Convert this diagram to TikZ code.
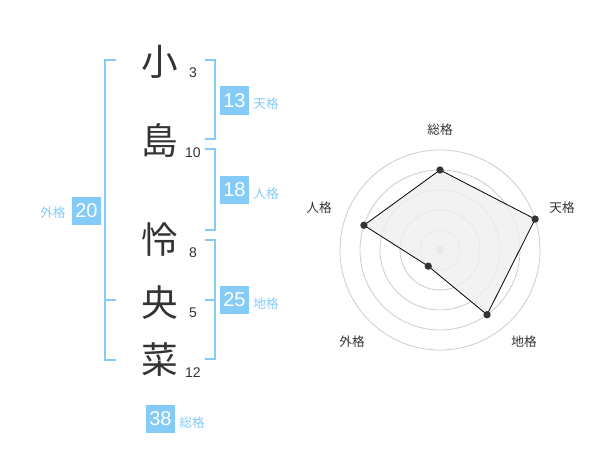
\documentclass[tikz,border=0pt]{standalone}
\usepackage{fontspec}
\usetikzlibrary{calc}
\setmainfont{Liberation Sans}
\newfontfamily\cjk{Noto Sans CJK JP}
\definecolor{skyb}{HTML}{85CBF8}
\definecolor{ink}{HTML}{333333}
\definecolor{ring}{HTML}{CCCCCC}
\definecolor{areaf}{HTML}{EFEFEF}
\begin{document}
\begin{tikzpicture}[x=0.75pt,y=-0.75pt,
  kanji/.style={font=\cjk\fontsize{27.5}{27.5}\selectfont,text=ink,inner sep=0pt},
  strokes/.style={font=\fontsize{10.5}{10.5}\selectfont,text=ink,inner sep=0pt},
  valbox/.style={fill=skyb,text=white,font=\fontsize{15}{15}\selectfont,minimum width=21.5pt,minimum height=21.5pt,inner sep=0pt},
  kaku/.style={font=\cjk\fontsize{9.5}{9.5}\selectfont,text=skyb,inner sep=0pt},
  brk/.style={draw=skyb,line width=1.6pt},
  rlabel/.style={font=\cjk\fontsize{9.5}{9.5}\selectfont,text=ink,inner sep=0pt},
  ringc/.style={draw=ring,line width=0.6pt},
  vdot/.style={circle,fill=ink,inner sep=0pt,minimum size=5.5pt}]
\useasboundingbox (0,0) rectangle (600,470);
% characters
\node[kanji] (k1) at (160,62) {小};
\node[kanji] (k2) at (160,141) {島};
\node[kanji] (k3) at (160,240) {怜};
\node[kanji] (k4) at (160,303) {央};
\node[kanji] (k5) at (160,360) {菜};
\node[strokes] (s1) at (193,73) {3};
\node[strokes] (s2) at (193,153) {10};
\node[strokes] (s3) at (193,253) {8};
\node[strokes] (s4) at (193,313) {5};
\node[strokes] (s5) at (193,373) {12};
% left bracket (gaikaku)
\coordinate (la) at (116,60);
\coordinate (lb) at (116,360);
\coordinate (lm) at (116,300);
\draw[brk] (la) -- (105,60) -- (105,360) -- (lb);
\draw[brk] (105,300) -- (lm);
\node[valbox] (g) at (86.5,211) {20};
\node[kaku] (gl) at (53,213) {外格};
% tenkaku bracket
\draw[brk] (205,60) -- (215,60) -- (215,139) -- (205,139);
\node[valbox] (t) at (234.5,100.5) {13};
\node[kaku] (tl) at (266,104) {天格};
% jinkaku bracket
\draw[brk] (205,149) -- (215,149) -- (215,230) -- (205,230);
\node[valbox] (j) at (234.5,190) {18};
\node[kaku] (jl) at (266,194) {人格};
% chikaku bracket
\draw[brk] (205,240) -- (215,240) -- (215,359) -- (205,359);
\draw[brk] (205,300) -- (215,300);
\node[valbox] (ck) at (234.5,300) {25};
\node[kaku] (cl) at (266,304) {地格};
% soukaku
\node[valbox] (s) at (160.5,419) {38};
\node[kaku] (sl) at (192,423) {総格};
% radar
\coordinate (ctr) at (440,250);
\foreach \r in {20,40,60,80,100} \draw[ringc] (ctr) circle[radius=\r];
\fill[ring] (ctr) circle[radius=4];
\coordinate (p1) at ($(ctr)+(-90:80)$);
\coordinate (p2) at ($(ctr)+(-18:100)$);
\coordinate (p3) at ($(ctr)+(54:80)$);
\coordinate (p4) at ($(ctr)+(126:20)$);
\coordinate (p5) at ($(ctr)+(-162:80)$);
\filldraw[fill=areaf,fill opacity=0.8,draw=black,line width=0.6pt] (p1) -- (p2) -- (p3) -- (p4) -- (p5) -- cycle;
\foreach \p in {p1,p2,p3,p4,p5} \node[vdot] at (\p) {};
\node[rlabel] (r1) at (440,130) {総格};
\node[rlabel] (r2) at (562,208) {天格};
\node[rlabel] (r3) at (524,342) {地格};
\node[rlabel] (r4) at (352,342) {外格};
\node[rlabel] (r5) at (319,208) {人格};
\end{tikzpicture}
\end{document}
